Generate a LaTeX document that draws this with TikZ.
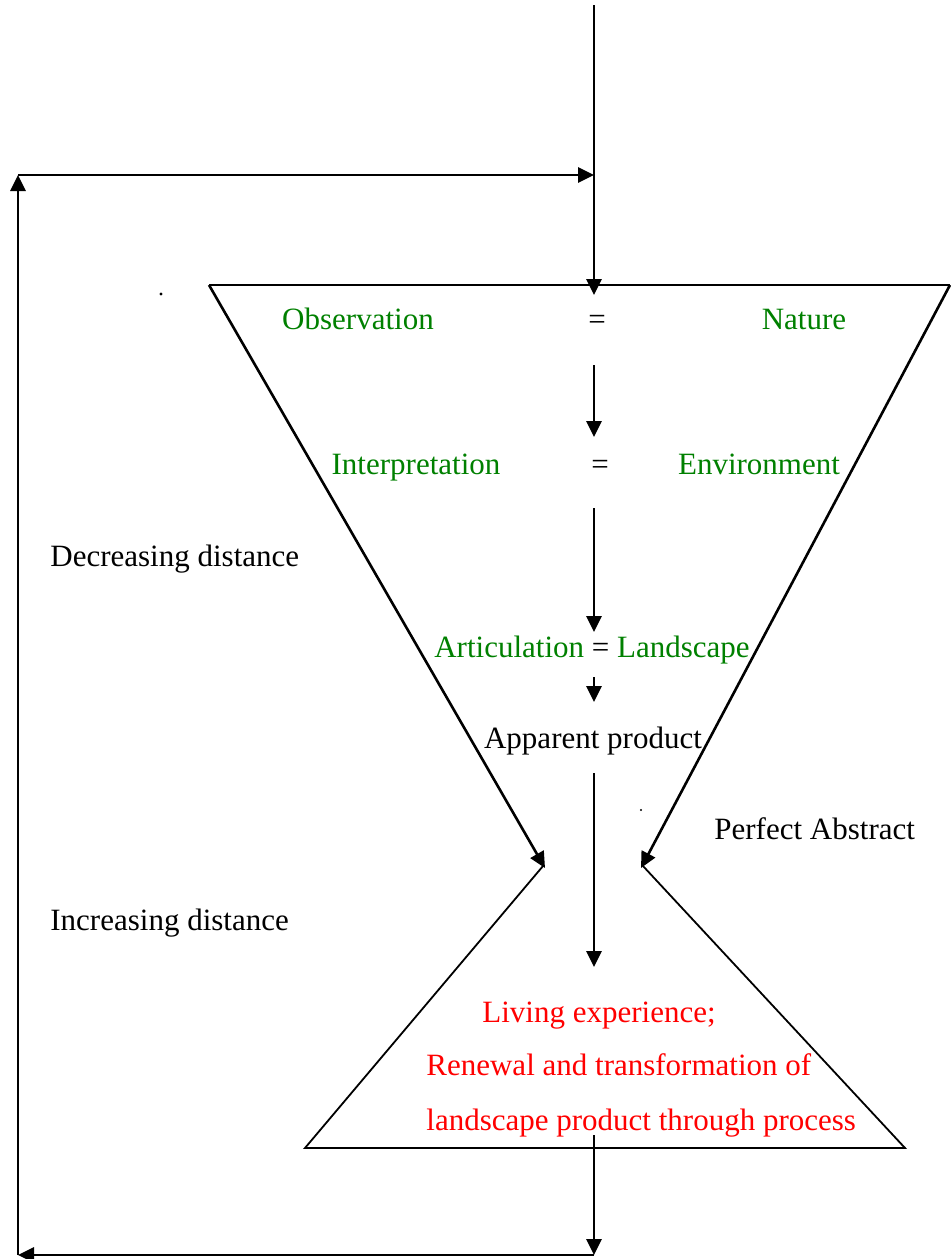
\documentclass[tikz,border=0pt]{standalone}
\usepackage{fontspec}
\setmainfont{Liberation Serif}
\usetikzlibrary{arrows.meta}

\begin{document}
\begin{tikzpicture}[x=0.5pt,y=-0.5pt,
    every node/.style={font=\fontsize{15.5}{18}\selectfont,inner sep=0pt,anchor=base},
    flow/.style={line width=1.4pt,-{Triangle[length=8pt,width=7.5pt]}},
    funnel/.style={line width=1.3pt},
    cone/.style={line width=0.9pt},
    stage/.style={text=green!50!black},
    outcome/.style={text=red}]
    \useasboundingbox (0,0) rectangle (950,1259);
    % Corners of the feedback loop
    \coordinate (top) at (594,5);
    \coordinate (loopR) at (594,175);
    \coordinate (loopL) at (18,175);
    \coordinate (baseL) at (18,1255);
    \coordinate (baseR) at (594,1255);
    % Upper funnel and lower cone
    \coordinate (fTL) at (209,285);
    \coordinate (fTR) at (950,285);
    \coordinate (fBL) at (545,868);
    \coordinate (fBR) at (641,868);
    \coordinate (cTL) at (543,866);
    \coordinate (cTR) at (643,866);
    \coordinate (cBL) at (305,1148);
    \coordinate (cBR) at (905,1148);
    % Labels
    \node[stage] (obs) at (358,329) {Observation};
    \node (eq1) at (597,329) {=};
    \node[stage] (nat) at (804,329) {Nature};
    \node[stage] (int) at (416,474) {Interpretation};
    \node (eq2) at (600,474) {=};
    \node[stage] (env) at (759,474) {Environment};
    \node[anchor=base west] (dec) at (50,566) {Decreasing distance};
    \node (art) at (592,657) {\textcolor{green!50!black}{Articulation} = \textcolor{green!50!black}{Landscape}};
    \node (app) at (593,748) {Apparent product};
    \node[anchor=base west] (perf) at (714,839) {Perfect Abstract};
    \node[anchor=base west] (inc) at (50,930) {Increasing distance};
    \node[outcome] (liv) at (599,1022) {Living experience;};
    \node[outcome,anchor=base west] (ren) at (426,1075) {Renewal and transformation of};
    \node[outcome,anchor=base west] (land) at (426,1130) {landscape product through process};
    % Steps down the middle
    \coordinate (s1a) at (594,365); \coordinate (s1b) at (594,437);
    \coordinate (s2a) at (594,508); \coordinate (s2b) at (594,632);
    \coordinate (s3a) at (594,677); \coordinate (s3b) at (594,702);
    \coordinate (s4a) at (594,773); \coordinate (s4b) at (594,967);
    \coordinate (s5a) at (594,1135);
    \coordinate (s0b) at (594,295);
    \draw[flow] (top) -- (s0b);
    \draw[flow] (s1a) -- (s1b);
    \draw[flow] (s2a) -- (s2b);
    \draw[flow] (s3a) -- (s3b);
    \draw[flow] (s4a) -- (s4b);
    \draw[flow] (s5a) -- (baseR);
    % Feedback loop
    \draw[flow] (baseR) -- (baseL);
    \draw[flow] (baseL) -- (loopL);
    \draw[flow] (loopL) -- (loopR);
    % Funnel
    \draw[funnel] (fTL) -- (fTR);
    \draw[flow,line width=1.3pt] (fTL) -- (fBL);
    \draw[flow,line width=1.3pt] (fTR) -- (fBR);
    \draw[cone] (cTL) -- (cBL) -- (cBR) -- (cTR);
    % Stray dots
    \fill (161,294) circle[radius=0.8pt];
    \fill (641,810) circle[radius=0.6pt];
\end{tikzpicture}
\end{document}
